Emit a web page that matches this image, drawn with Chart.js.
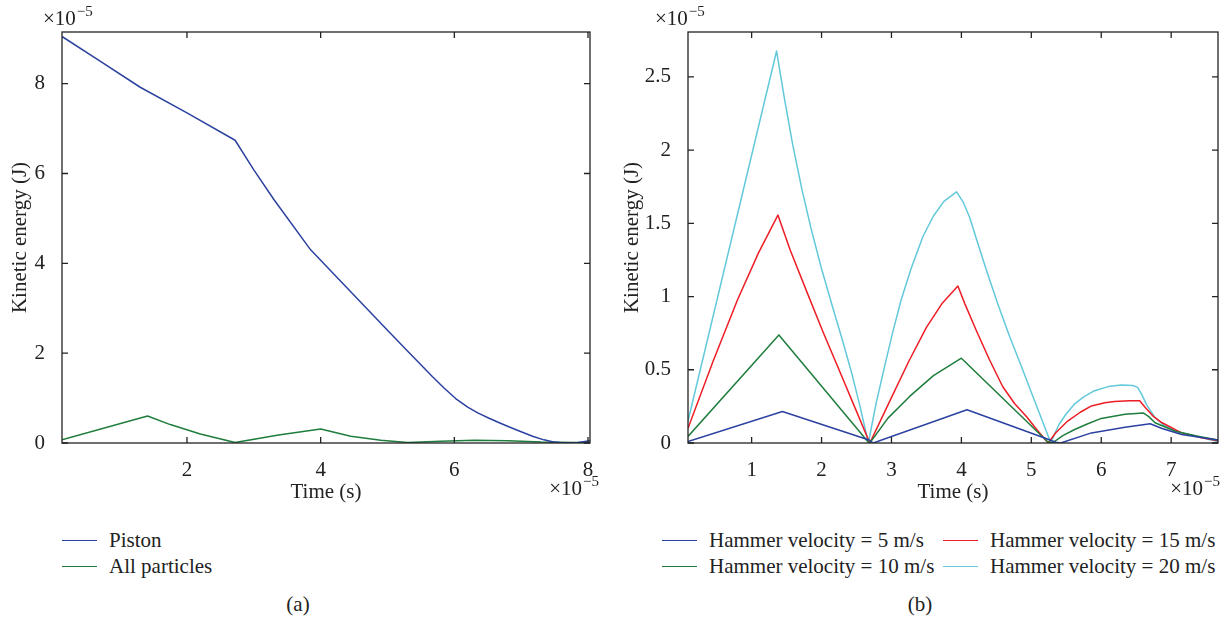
<!DOCTYPE html>
<html>
<head>
<meta charset="utf-8">
<script src="https://cdn.jsdelivr.net/npm/chart.js@4.4.0/dist/chart.umd.min.js"></script>
<style>
  body { margin: 0; background: #fff; width: 1224px; height: 618px; position: relative; overflow: hidden;
         font-family: "Liberation Serif", "Times New Roman", serif; color: #222; }
  canvas { position: absolute; top: 0; }
  #chart-a { left: 0; }
  #chart-b { left: 612px; }
  .legend { position: absolute; top: 527px; font-size: 21px; }
  .legend .item { display: flex; align-items: center; height: 26px; white-space: nowrap; }
  .legend .swatch { width: 35px; height: 0; border-top: 1.5px solid; margin-right: 12px; }
  #legend-a { left: 62px; }
  #legend-b { left: 662px; display: grid; grid-template-columns: 281px 281px; }
  .caption { position: absolute; top: 592px; font-size: 21px; transform: translateX(-50%); }
</style>
</head>
<body>
<canvas id="chart-a" width="612" height="520"></canvas>
<canvas id="chart-b" width="612" height="520"></canvas>
<div class="legend" id="legend-a"></div>
<div class="legend" id="legend-b"></div>
<div class="caption" style="left:298px">(a)</div>
<div class="caption" style="left:920px">(b)</div>
<script>
// ---- (a) piston vs particles, time and energy in units of 1e-5
const pistonT = [0.13, 0.7, 1.3, 2.0, 2.72, 3.0, 3.3, 3.85, 4.5, 5.0, 5.31, 5.5, 5.67, 5.85, 6.02, 6.2, 6.35, 6.52, 6.69, 6.85, 7.0, 7.17, 7.34, 7.47, 7.6, 7.85, 8.03];
const pistonE = [9.05, 8.5, 7.92, 7.35, 6.74, 6.08, 5.42, 4.30, 3.29, 2.51, 2.03, 1.74, 1.48, 1.22, 0.99, 0.8, 0.67, 0.55, 0.44, 0.34, 0.25, 0.15, 0.07, 0.03, 0.005, 0.01, 0.05];
const particlesT = [0.13, 1.41, 1.75, 2.2, 2.72, 3.37, 4.0, 4.45, 4.9, 5.3, 5.8, 6.3, 6.8, 7.3, 7.8, 8.03];
const particlesE = [0.07, 0.6, 0.41, 0.2, 0.01, 0.18, 0.31, 0.15, 0.06, 0.01, 0.04, 0.06, 0.05, 0.02, 0.01, 0.01];
const xTicksA = [2, 4, 6, 8];
const yTicksA = [0, 2, 4, 6, 8];

// ---- (b) hammer velocities
const v5T = [0.09, 1.44, 2.68, 2.74, 4.08, 5.19, 5.35, 5.42, 5.86, 6.34, 6.7, 6.87, 7.15, 7.67];
const v5E = [0.01, 0.215, 0.02, 0.0, 0.227, 0.034, 0.005, 0.0, 0.069, 0.108, 0.131, 0.099, 0.058, 0.02];
const v10T = [0.09, 1.39, 2.67, 2.69, 2.95, 3.26, 3.6, 4.0, 5.23, 5.3, 5.45, 5.62, 5.8, 6.0, 6.34, 6.6, 6.68, 6.77, 7.06, 7.4, 7.67];
const v10E = [0.045, 0.738, 0.005, 0.0, 0.17, 0.318, 0.46, 0.579, 0.01, 0.0, 0.05, 0.092, 0.13, 0.168, 0.196, 0.205, 0.18, 0.138, 0.08, 0.045, 0.02];
const v15T = [0.09, 0.45, 0.8, 1.1, 1.376, 1.55, 1.8, 2.02, 2.25, 2.47, 2.69, 2.85, 3.02, 3.25, 3.5, 3.72, 3.95, 4.05, 4.21, 4.4, 4.59, 4.76, 4.93, 5.08, 5.24,
  5.35, 5.52, 5.7, 5.86, 6.05, 6.19, 6.4, 6.55, 6.63, 6.75, 6.87, 7.15, 7.4, 7.67];
const v15E = [0.10, 0.56, 0.98, 1.3, 1.556, 1.32, 1.02, 0.76, 0.5, 0.25, 0.0, 0.16, 0.33, 0.56, 0.79, 0.95, 1.072, 0.95, 0.772, 0.57, 0.386, 0.27, 0.181, 0.09, 0.0,
  0.07, 0.15, 0.21, 0.253, 0.275, 0.283, 0.288, 0.288, 0.242, 0.18, 0.138, 0.069, 0.04, 0.015];
const v20T = [0.09, 1.357, 1.47, 1.586, 1.72, 1.847, 2.0, 2.157, 2.3, 2.43, 2.55, 2.67, 2.78, 2.9, 3.02, 3.14, 3.28, 3.45, 3.6, 3.75, 3.93,
  4.02, 4.119, 4.23, 4.357, 4.52, 4.69, 4.86, 5.023, 5.15, 5.28,
  5.34, 5.4, 5.5, 5.615, 5.75, 5.904, 6.1, 6.288, 6.45, 6.52, 6.577, 6.65, 6.77, 6.9, 7.058, 7.35, 7.67];
const v20E = [0.15, 2.676, 2.35, 2.04, 1.73, 1.47, 1.19, 0.93, 0.7, 0.48, 0.25, 0.0, 0.27, 0.52, 0.76, 0.98, 1.19, 1.41, 1.55, 1.65, 1.715,
  1.65, 1.54, 1.37, 1.181, 0.95, 0.727, 0.52, 0.318, 0.16, 0.0,
  0.07, 0.13, 0.2, 0.265, 0.315, 0.357, 0.385, 0.396, 0.393, 0.38, 0.334, 0.26, 0.173, 0.12, 0.081, 0.046, 0.01];
const xTicksB = [1, 2, 3, 4, 5, 6, 7];
const yTicksB = [0, 0.5, 1, 1.5, 2, 2.5];

const BLUE = "#2c42a0", GREEN = "#1f7d3d", RED = "#ee1d25", CYAN = "#62c9da";
const FONT = { family: "'Liberation Serif', 'Times New Roman', serif", size: 21 };

const pts = (t, e) => t.map((v, i) => ({ x: v, y: e[i] }));
const line = (label, t, e, color) => ({
  label, data: pts(t, e), borderColor: color, backgroundColor: color,
  borderWidth: 1.5, pointRadius: 0, tension: 0, fill: false, borderJoinStyle: "round",
});

// draws the box, inward ticks on all four sides and the x10^-5 multipliers
const frame = {
  id: "frame",
  afterDraw(chart, args, opts) {
    const { ctx, chartArea: a, scales: { x, y } } = chart;
    ctx.save();
    ctx.strokeStyle = "#222";
    ctx.lineWidth = 1.3;
    ctx.strokeRect(a.left, a.top, a.right - a.left, a.bottom - a.top);
    ctx.beginPath();
    x.ticks.forEach((t) => {
      const px = x.getPixelForValue(t.value);
      ctx.moveTo(px, a.bottom); ctx.lineTo(px, a.bottom - 6);
      ctx.moveTo(px, a.top); ctx.lineTo(px, a.top + 6);
    });
    y.ticks.forEach((t) => {
      const py = y.getPixelForValue(t.value);
      ctx.moveTo(a.left, py); ctx.lineTo(a.left + 6, py);
      ctx.moveTo(a.right, py); ctx.lineTo(a.right - 6, py);
    });
    ctx.stroke();

    const pow = (px, py, alignRight) => {
      ctx.font = "21px 'Liberation Serif', serif";
      const w1 = ctx.measureText("\u00d710").width;
      ctx.font = "15px 'Liberation Serif', serif";
      const w2 = ctx.measureText("\u22125").width;
      const x0 = alignRight ? px - w1 - w2 : px;
      ctx.fillStyle = "#222";
      ctx.textAlign = "left";
      ctx.textBaseline = "alphabetic";
      ctx.font = "21px 'Liberation Serif', serif";
      ctx.fillText("\u00d710", x0, py);
      ctx.font = "15px 'Liberation Serif', serif";
      ctx.fillText("\u22125", x0 + w1 + 1, py - 9);
    };
    pow(a.left - opts.topDx, a.top - 7, false);
    pow(a.right + opts.bottomDx, a.bottom + 52, true);
    ctx.restore();
  },
};

function makeChart(id, datasets, xr, yr, xTicks, yTicks, yWidth, padRight, frameOpts) {
  return new Chart(document.getElementById(id), {
    type: "line",
    data: { datasets },
    options: {
      responsive: false,
      animation: false,
      devicePixelRatio: 1,
      layout: { padding: { top: 32, right: padRight, left: 0, bottom: 7 } },
      plugins: { legend: { display: false }, tooltip: { enabled: false }, frame: frameOpts },
      scales: {
        x: {
          type: "linear", min: xr[0], max: xr[1],
          grid: { display: false }, border: { display: false },
          afterBuildTicks: (s) => { s.ticks = xTicks.map((v) => ({ value: v })); },
          afterFit: (s) => { s.height = 70; },
          ticks: { color: "#222", font: FONT, padding: 7, maxRotation: 0, callback: (v) => String(v) },
          title: { display: true, text: "Time (s)", color: "#222", font: FONT, padding: { top: 0, bottom: 8 } },
        },
        y: {
          type: "linear", min: yr[0], max: yr[1],
          grid: { display: false }, border: { display: false },
          afterBuildTicks: (s) => { s.ticks = yTicks.map((v) => ({ value: v })); },
          afterFit: (s) => { s.width = yWidth; },
          ticks: { color: "#222", font: FONT, padding: 9, callback: (v) => String(v) },
          title: { display: true, text: "Kinetic energy (J)", color: "#222", font: FONT, padding: { top: 8, bottom: 0 } },
        },
      },
    },
    plugins: [frame],
  });
}

const setA = [
  line("Piston", pistonT, pistonE, BLUE),
  line("All particles", particlesT, particlesE, GREEN),
];
const setB = [
  line("Hammer velocity = 5 m/s", v5T, v5E, BLUE),
  line("Hammer velocity = 10 m/s", v10T, v10E, GREEN),
  line("Hammer velocity = 15 m/s", v15T, v15E, RED),
  line("Hammer velocity = 20 m/s", v20T, v20E, CYAN),
];

makeChart("chart-a", setA, [0.13, 8.03], [0, 9.15], xTicksA, yTicksA, 62, 22, { topDx: 19, bottomDx: 8 });
makeChart("chart-b", setB, [0.09, 7.67], [0, 2.806], xTicksB, yTicksB, 76, 6, { topDx: 33, bottomDx: 1 });

// html legends; panel (b) fills row by row: 5, 15 / 10, 20
function legend(el, items) {
  items.forEach((ds) => {
    const row = document.createElement("div");
    row.className = "item";
    const sw = document.createElement("span");
    sw.className = "swatch";
    sw.style.borderColor = ds.borderColor;
    const tx = document.createElement("span");
    tx.textContent = ds.label;
    row.append(sw, tx);
    el.appendChild(row);
  });
}
legend(document.getElementById("legend-a"), setA);
legend(document.getElementById("legend-b"), [setB[0], setB[2], setB[1], setB[3]]);
</script>
</body>
</html>
